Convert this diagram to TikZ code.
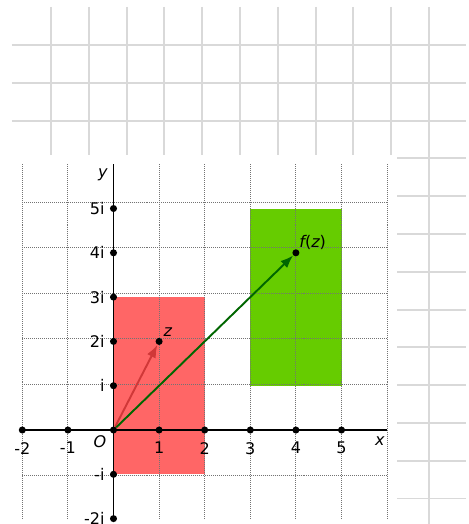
\documentclass[tikz,border=0pt]{standalone}
\usepackage{fontspec}
\setmainfont{DejaVu Sans}
\usepackage{xcolor}
\usepackage{tikz}
\usetikzlibrary{arrows.meta,positioning}
\definecolor{zfill}{HTML}{FF6666}
\definecolor{zdark}{HTML}{D03838}
\definecolor{ffill}{HTML}{66CC00}
\definecolor{fdark}{HTML}{006600}

\begin{document}
\begin{tikzpicture}[>={Latex[length=8pt,width=6pt]},x=1cm,y=0.9715cm,
 font=\fontsize{10}{12}\selectfont,
 paper/.style={draw=gray!30,line width=1.2pt},
 grd/.style={draw=black!55,line width=0.6pt,dash pattern=on 0.62pt off 0.62pt},
 axis/.style={line width=1.2pt},
 dot/.style={circle,fill,inner sep=0pt,minimum size=4.4pt},
 lbl/.style={inner sep=1pt},arr/.style={->,line width=1.2pt}]
\useasboundingbox (-2.489cm,-2.061cm) rectangle (7.774cm,9.430cm);
% squared paper behind the plot
\begin{scope}[shift={(-2.489cm,9.430cm)},x=0.02193cm,y=-0.02193cm]
\foreach \k in {0,...,12} \draw[paper] (12,45+37.8*\k) -- (466,45+37.8*\k);
\foreach \k in {0,...,10} \draw[paper] (51+37.8*\k,7) -- (51+37.8*\k,524);
\fill[white] (0,155) rectangle (397,524);
\end{scope}
% regions and grid
\fill[zfill] (0,-1) rectangle (2,3);
\fill[ffill] (3,1) rectangle (5,5);
\draw[grd] (-2,-2) grid (6,6);
\draw[axis] (-2,0) -- (6,0); \draw[axis] (0,-2) -- (0,6);
% ticks
\foreach \i in {-2,...,5} \node[dot] (x\i) at (\i,0) {};
\foreach \i in {-2,-1,1,2,3,4,5} \node[dot] (y\i) at (0,\i) {};
\foreach \i in {-2,-1,1,2,3,4,5} \node[lbl,below=4pt of x\i] (lx\i) {\i};
\foreach \i/\t in {-2/-2i,-1/-i,1/i,2/2i,3/3i,4/4i,5/5i} \node[lbl,left=2pt of y\i] (ly\i) {\t};
\node[lbl] (lo) at (-0.3,-0.27) {\textit{O}};
\node[lbl] (lx) at (5.84,-0.25) {\textit{x}};
\node[lbl] (ly) at (-0.23,5.76) {\textit{y}};
% z and f(z)
\node[dot] (z) at (1,2) {};
\node[dot] (fz) at (4,4) {};
\draw[arr,zdark] (x0) -- (z); \draw[arr,fdark] (x0) -- (fz);
\node[lbl,above right=0pt of z] (lz) {\textit{z}};
\node[lbl,above right=-1pt of fz] (lfz) {{\itshape f}({\itshape z})};
\end{tikzpicture}
\end{document}
